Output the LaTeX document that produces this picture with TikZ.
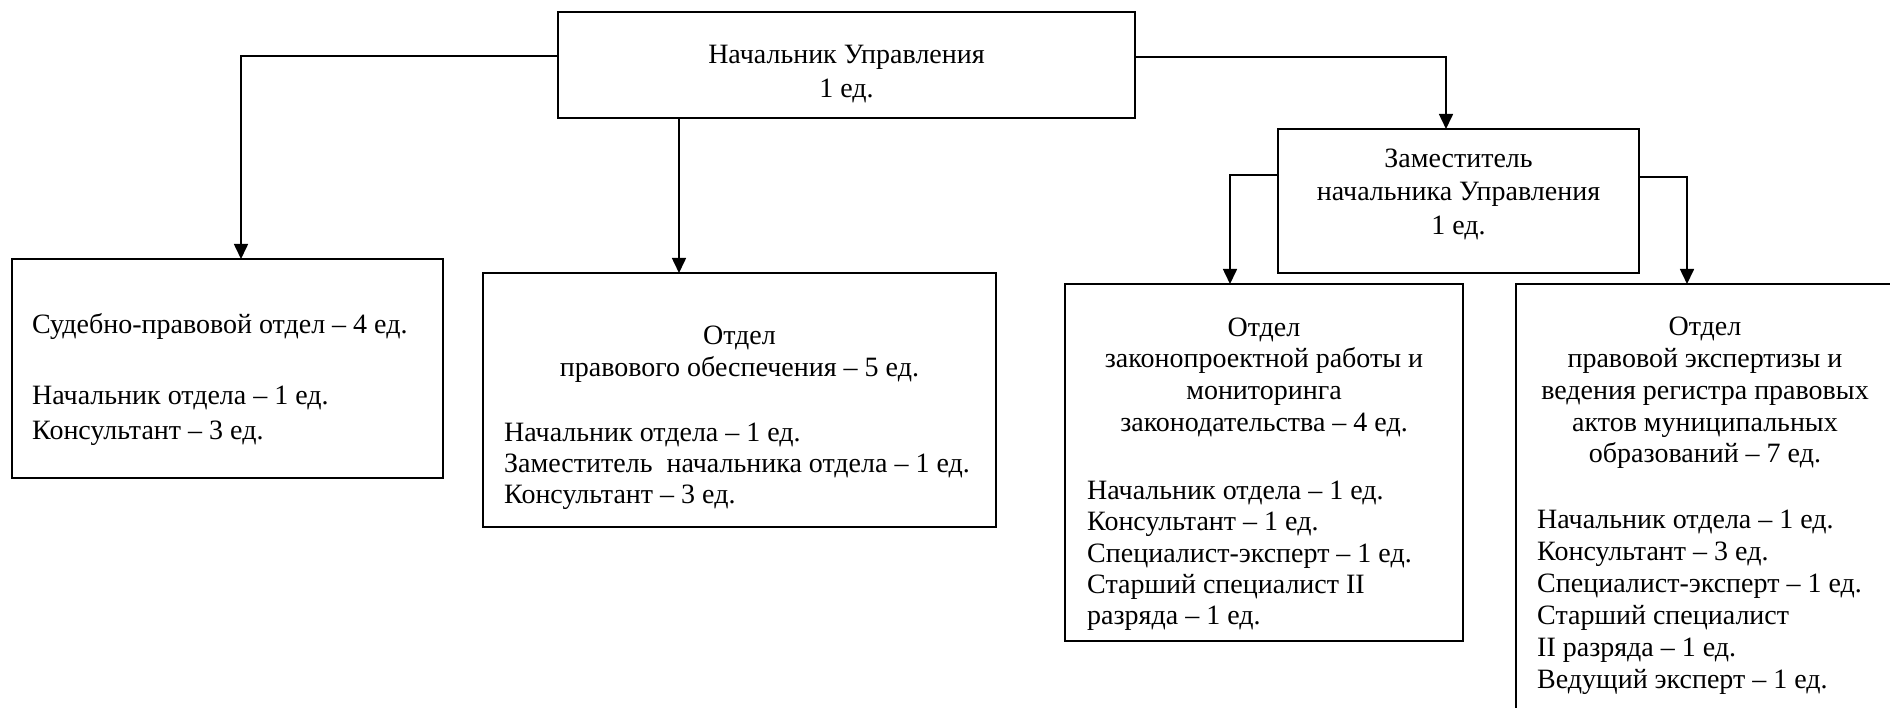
\documentclass[tikz,border=0pt]{standalone}
\usepackage{fontspec}
\setmainfont{Liberation Serif}
\usetikzlibrary{arrows.meta}
\begin{document}
\begin{tikzpicture}[x=1pt,y=-1pt,
  box/.style={draw, line width=1.6pt, anchor=north west, inner sep=0pt, outer sep=0pt},
  conn/.style={line width=1.6pt, -{Triangle[length=15pt,width=14pt]}},
  hdr/.style={anchor=north, align=center, inner sep=0pt},
  lst/.style={anchor=north west, align=left, inner sep=0pt}]
\useasboundingbox (0,0) rectangle (1890,708);
\clip (0,0) rectangle (1890,708);
\fill[white] (0,0) rectangle (1890,708);
% boxes
\node[box, minimum width=577pt, minimum height=106pt] (top) at (558,12) {};
\node[box, minimum width=361pt, minimum height=144pt] (dep) at (1278,129) {};
\node[box, minimum width=431pt, minimum height=219pt] (b1) at (12,259) {};
\node[box, minimum width=513pt, minimum height=254pt] (b2) at (483,273) {};
\node[box, minimum width=398pt, minimum height=357pt] (b3) at (1065,284) {};
\node[box, minimum width=378pt, minimum height=480pt] (b4) at (1516,284) {};
% connectors
\draw[conn] ([yshift=9pt]top.west) -| ([xshift=13.5pt]b1.north);
\draw[conn] ([xshift=-60.5pt]b2.north |- top.south) -- ([xshift=-60.5pt]b2.north);
\draw[conn] ([yshift=8pt]top.east) -| ([xshift=-12.5pt]dep.north);
\draw[conn] ([yshift=26pt]dep.west) -| ([xshift=-34pt]b3.north);
\draw[conn] ([yshift=24pt]dep.east) -| ([xshift=-18pt]b4.north);
% texts
\node[hdr, font=\fontsize{28}{34}\selectfont] (ttop) at (846.5,44.5) {Начальник Управления\\1 ед.};
\node[hdr, font=\fontsize{28}{33.5}\selectfont] (tdep) at (1458.5,148.5) {Заместитель\\начальника Управления\\1 ед.};
\node[lst, font=\fontsize{28}{35}\selectfont] (h1) at (32,313) {Судебно-правовой отдел – 4 ед.};
\node[lst, font=\fontsize{28}{35}\selectfont] (l1) at (32,386) {Начальник отдела – 1 ед.\\Консультант – 3 ед.};
\node[hdr, font=\fontsize{28}{32}\selectfont] (h2) at (739.5,325.5) {Отдел\\правового обеспечения – 5 ед.};
\node[lst, font=\fontsize{28}{31}\selectfont] (l2) at (504,422.5) {Начальник отдела – 1 ед.\\Заместитель~ начальника отдела – 1 ед.\\Консультант – 3 ед.};
\node[hdr, font=\fontsize{28}{31.7}\selectfont] (h3) at (1264,317.5) {Отдел\\законопроектной работы и\\мониторинга\\законодательства – 4 ед.};
\node[lst, font=\fontsize{28}{31.3}\selectfont] (l3) at (1087,481) {Начальник отдела – 1 ед.\\Консультант – 1 ед.\\Специалист-эксперт – 1 ед.\\Старший специалист II\\разряда – 1 ед.};
\node[hdr, font=\fontsize{28}{31.8}\selectfont] (h4) at (1705,317) {Отдел\\правовой экспертизы и\\ведения регистра правовых\\актов муниципальных\\образований – 7 ед.};
\node[lst, font=\fontsize{28}{32}\selectfont] (l4) at (1537,510) {Начальник отдела – 1 ед.\\Консультант – 3 ед.\\Специалист-эксперт – 1 ед.\\Старший специалист\\II разряда – 1 ед.\\Ведущий эксперт – 1 ед.};
\end{tikzpicture}
\end{document}
